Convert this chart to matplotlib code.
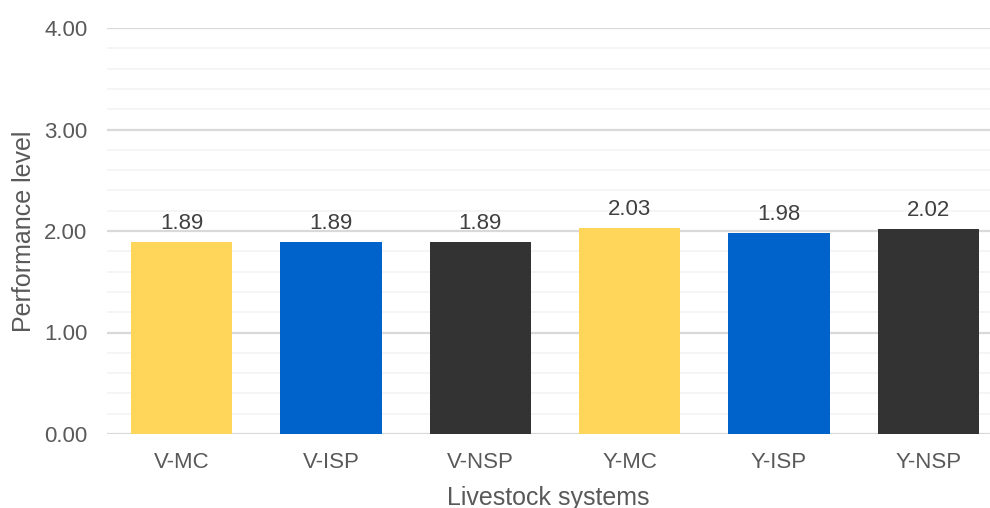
import numpy as np
import matplotlib.pyplot as plt
from matplotlib.ticker import MultipleLocator

plt.rcParams['font.family'] = ['Liberation Sans', 'DejaVu Sans']

systems = ["V-MC", "V-ISP", "V-NSP", "Y-MC", "Y-ISP", "Y-NSP"]
performance = [1.89, 1.89, 1.89, 2.03, 1.98, 2.02]
colors = ["#FFD55A", "#0063CC", "#333333", "#FFD55A", "#0063CC", "#333333"]

text_color = "#595959"

fig = plt.figure(figsize=(9.9, 5.08), dpi=100)
ax = fig.add_axes([107 / 990, (508 - 434) / 508, (990 - 107) / 990, 406 / 508])

x = np.arange(len(systems))
ax.bar(x, performance, width=0.68, color=colors, zorder=3)
for xi, v in zip(x, performance):
    ax.text(xi, v + 0.08, "%.2f" % v, ha="center", va="bottom",
            fontsize=16, color="#404040")

ax.set_ylim(0, 4)
ax.set_xlim(-0.5, 5.413)
ax.yaxis.set_major_locator(MultipleLocator(1))
ax.yaxis.set_minor_locator(MultipleLocator(0.2))
ax.yaxis.set_major_formatter(lambda v, p: "%.2f" % v)
ax.grid(which="major", axis="y", color="#d9d9d9", lw=1.6, zorder=0)
ax.grid(which="minor", axis="y", color="#f4f4f4", lw=1.2, zorder=0)
ax.set_axisbelow(True)

ax.set_xticks(x)
ax.set_xticklabels(systems)
ax.tick_params(axis="both", which="both", length=0, labelsize=16,
               labelcolor=text_color)
ax.tick_params(axis="x", pad=13)
ax.tick_params(axis="y", pad=14)
for s in ax.spines.values():
    s.set_visible(False)

ax.set_xlabel("Livestock systems", fontsize=18, color=text_color, labelpad=9)
ax.set_ylabel("Performance level", fontsize=18, color=text_color, labelpad=6)

fig.savefig("out.png", dpi=100)
